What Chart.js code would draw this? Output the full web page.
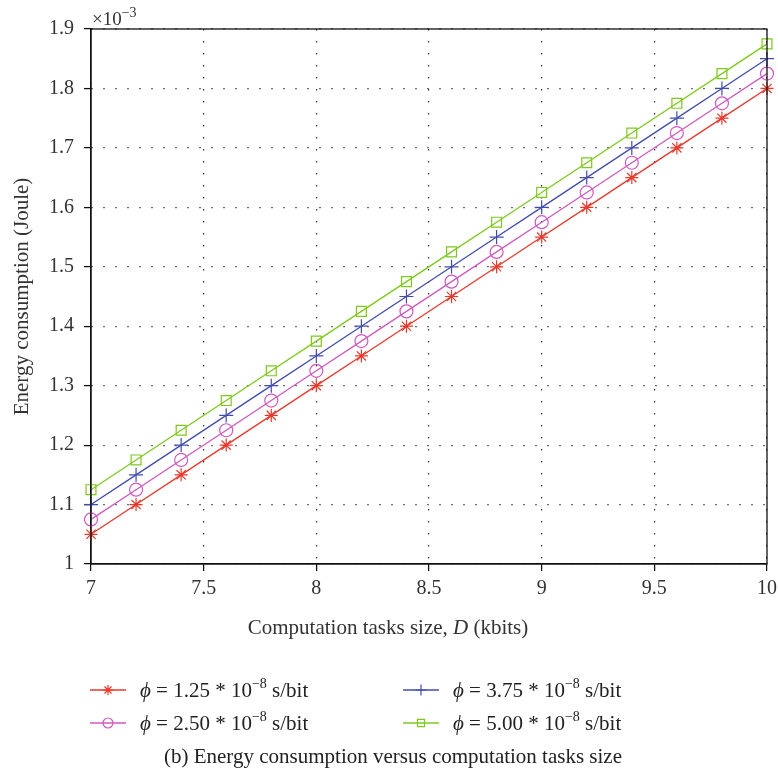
<!DOCTYPE html>
<html>
<head>
<meta charset="utf-8">
<script src="https://cdn.jsdelivr.net/npm/chart.js@4.4.1/dist/chart.umd.min.js"></script>
<style>
  html, body { margin: 0; padding: 0; background: #fff; }
  #wrap { width: 778px; height: 778px; position: relative; }
</style>
</head>
<body>
<div id="wrap"><canvas id="energy"></canvas></div>
<script>
// task size D in kbits
const taskSize = [7, 7.2, 7.4, 7.6, 7.8, 8, 8.2, 8.4, 8.6, 8.8, 9, 9.2, 9.4, 9.6, 9.8, 10];

// energy consumption (x 10^-3 Joule) for each phi
const energyPhi125 = [1.05, 1.10, 1.15, 1.20, 1.25, 1.30, 1.35, 1.40, 1.45, 1.50, 1.55, 1.60, 1.65, 1.70, 1.75, 1.80];
const energyPhi250 = [1.075, 1.125, 1.175, 1.225, 1.275, 1.325, 1.375, 1.425, 1.475, 1.525, 1.575, 1.625, 1.675, 1.725, 1.775, 1.825];
const energyPhi375 = [1.10, 1.15, 1.20, 1.25, 1.30, 1.35, 1.40, 1.45, 1.50, 1.55, 1.60, 1.65, 1.70, 1.75, 1.80, 1.85];
const energyPhi500 = [1.125, 1.175, 1.225, 1.275, 1.325, 1.375, 1.425, 1.475, 1.525, 1.575, 1.625, 1.675, 1.725, 1.775, 1.825, 1.875];

const phiLabels = ['1.25', '2.50', '3.75', '5.00'];
const xTicks = [7, 7.5, 8, 8.5, 9, 9.5, 10];
const yTicks = [1, 1.1, 1.2, 1.3, 1.4, 1.5, 1.6, 1.7, 1.8, 1.9];

const SERIF = '"Liberation Serif", "DejaVu Serif", serif';

const series = [
  { values: energyPhi125, color: 'rgb(232,56,44)',  style: 'star',   r: 6.5, lr: 5 },
  { values: energyPhi250, color: 'rgb(208,88,190)', style: 'circle', r: 6.5, lr: 5 },
  { values: energyPhi375, color: 'rgb(66,76,172)',  style: 'cross',  r: 7,   lr: 5.5 },
  { values: energyPhi500, color: 'rgb(126,200,28)', style: 'rect',   r: 7,   lr: 5 }
];

const datasets = series.map((s, i) => ({
  label: phiLabels[i],
  data: taskSize.map((x, j) => ({ x: x, y: s.values[j] })),
  borderColor: s.color,
  borderWidth: 1.3,
  pointStyle: s.style,
  pointRadius: s.r,
  pointBorderColor: s.color,
  pointBackgroundColor: 'rgba(0,0,0,0)',
  pointBorderWidth: 1.2,
  fill: false,
  tension: 0,
  clip: false
}));

// draw a sequence of text pieces with different fonts / offsets
function drawRuns(ctx, runs, x, y, align) {
  let total = 0;
  runs.forEach(r => { ctx.font = r.font; r.w = ctx.measureText(r.t).width; total += r.w; });
  let cx = align === 'center' ? x - total / 2 : x;
  runs.forEach(r => {
    ctx.font = r.font;
    ctx.fillText(r.t, cx, y + (r.dy || 0));
    cx += r.w;
  });
}

const paperDecor = {
  id: 'paperDecor',
  afterDraw(chart) {
    const ctx = chart.ctx;
    const a = chart.chartArea;
    ctx.save();

    // box around the plot
    ctx.strokeStyle = '#111';
    ctx.lineWidth = 1.3;
    ctx.setLineDash([]);
    ctx.strokeRect(a.left, a.top, a.right - a.left, a.bottom - a.top);

    ctx.textBaseline = 'alphabetic';
    ctx.textAlign = 'left';

    // exponent above the y axis
    ctx.fillStyle = '#333';
    drawRuns(ctx, [
      { t: '\u00d710', font: '19px ' + SERIF },
      { t: '\u22123', font: '14px ' + SERIF, dy: -8 }
    ], a.left + 1, 25, 'left');

    // y axis title
    ctx.save();
    ctx.translate(28, (a.top + a.bottom) / 2);
    ctx.rotate(-Math.PI / 2);
    ctx.textAlign = 'center';
    ctx.font = '21px ' + SERIF;
    ctx.fillText('Energy consumption (Joule)', 0, 0);
    ctx.restore();

    // x axis title
    drawRuns(ctx, [
      { t: 'Computation tasks size, ', font: '21px ' + SERIF },
      { t: 'D', font: 'italic 21px ' + SERIF },
      { t: ' (kbits)', font: '21px ' + SERIF }
    ], 388, 634, 'center');

    // legend, two columns
    const cols = [90, 403];
    const rows = [697, 730];
    series.forEach((s, i) => {
      const lx = cols[Math.floor(i / 2)];
      const ly = rows[i % 2];
      const my = ly - 7;
      ctx.strokeStyle = s.color;
      ctx.lineWidth = 1.3;
      ctx.beginPath();
      ctx.moveTo(lx, my);
      ctx.lineTo(lx + 36, my);
      ctx.stroke();
      ctx.fillStyle = 'rgba(0,0,0,0)';
      ctx.lineWidth = 1.2;
      Chart.helpers.drawPoint(ctx, { pointStyle: s.style, radius: s.lr, borderWidth: 1.2, rotation: 0 }, lx + 18, my);
      ctx.fillStyle = '#222';
      drawRuns(ctx, [
        { t: '\u03d5', font: 'italic 21px ' + SERIF },
        { t: ' = ' + phiLabels[i] + ' * 10', font: '21px ' + SERIF },
        { t: '\u22128', font: '14px ' + SERIF, dy: -9 },
        { t: ' s/bit', font: '21px ' + SERIF }
      ], lx + 50, ly, 'left');
    });

    // caption
    ctx.fillStyle = '#222';
    ctx.textAlign = 'center';
    ctx.font = '21px ' + SERIF;
    ctx.fillText('(b) Energy consumption versus computation tasks size', 393, 763);

    ctx.restore();
  }
};

new Chart(document.getElementById('energy'), {
  type: 'line',
  data: { datasets: datasets },
  options: {
    responsive: true,
    maintainAspectRatio: false,
    animation: false,
    devicePixelRatio: 1,
    layout: { padding: { top: 29, right: 11, left: 0, bottom: 0 } },
    plugins: {
      legend: { display: false },
      tooltip: { enabled: false }
    },
    scales: {
      x: {
        type: 'linear',
        min: 7,
        max: 10,
        afterFit(scale) {
          scale.height = 214;
          // let the "10" label hang past the box instead of shrinking it
          scale.paddingLeft = 0;
          scale.paddingRight = 0;
        },
        afterBuildTicks(scale) { scale.ticks = xTicks.map(v => ({ value: v })); },
        ticks: {
          color: '#333',
          padding: 6,
          maxRotation: 0,
          font: { family: SERIF, size: 20 },
          callback: v => String(+v.toFixed(2))
        },
        grid: { color: '#333', lineWidth: 1.2, tickLength: 7, tickColor: '#111', tickWidth: 1.3 },
        border: { display: true, color: '#111', width: 1.3, dash: [1.4, 10.6] }
      },
      y: {
        type: 'linear',
        min: 1,
        max: 1.9,
        afterFit(scale) {
          scale.width = 91;
          scale.paddingTop = 0;
          scale.paddingBottom = 0;
        },
        afterBuildTicks(scale) { scale.ticks = yTicks.map(v => ({ value: v })); },
        ticks: {
          color: '#333',
          padding: 10,
          font: { family: SERIF, size: 20 },
          callback: v => String(+v.toFixed(2))
        },
        grid: { color: '#333', lineWidth: 1.2, tickLength: 7, tickColor: '#111', tickWidth: 1.3 },
        border: { display: true, color: '#111', width: 1.3, dash: [1.4, 10.6] }
      }
    }
  },
  plugins: [paperDecor]
});
</script>
</body>
</html>
